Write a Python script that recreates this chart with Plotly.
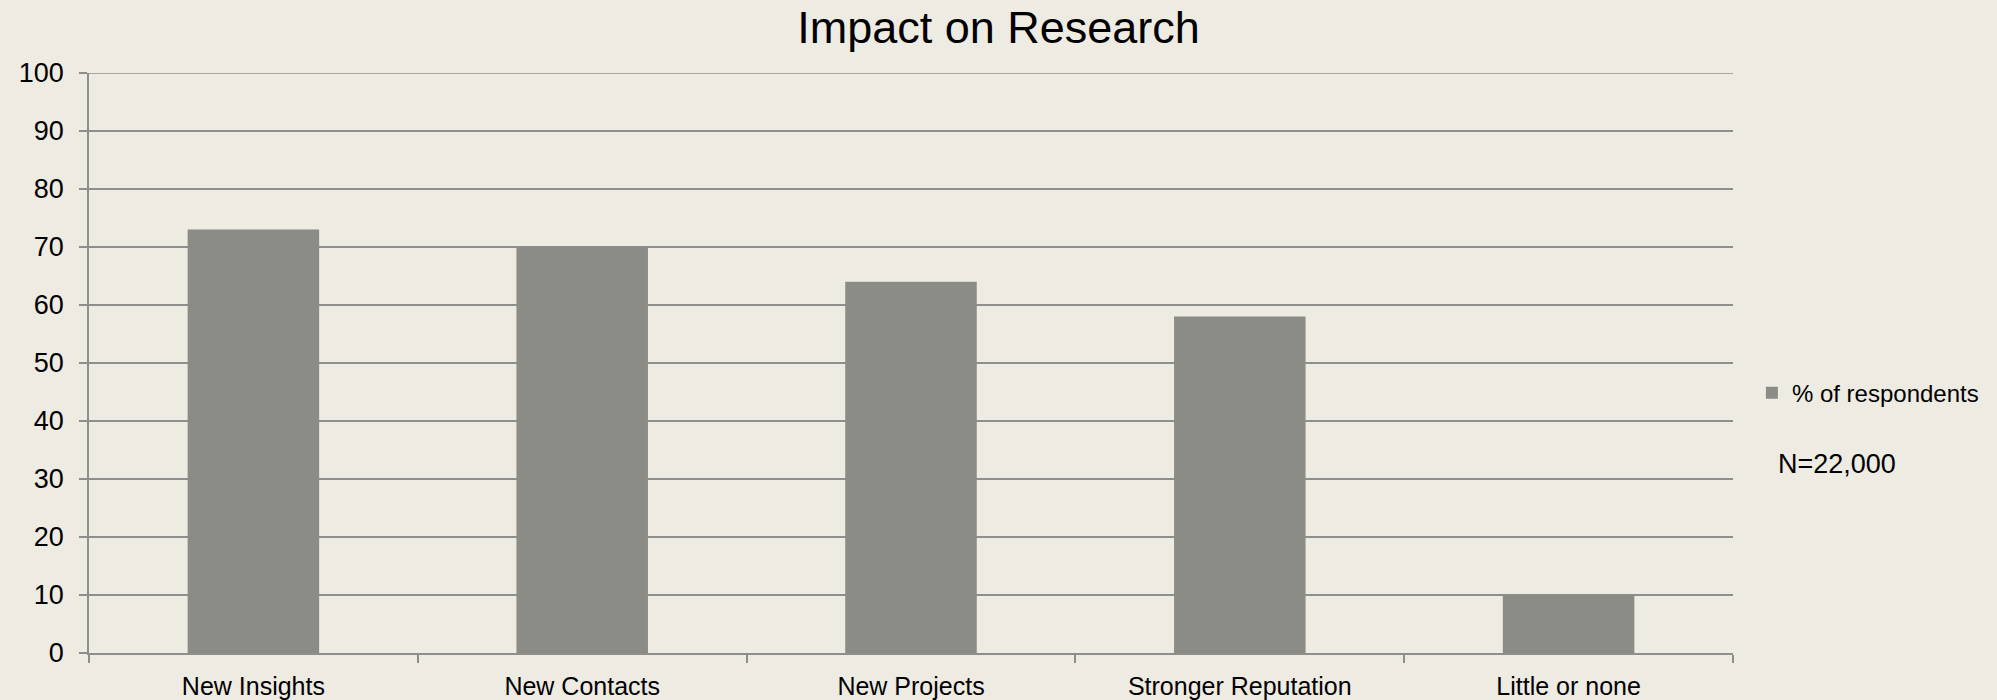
import plotly.graph_objects as go

categories = ["New Insights", "New Contacts", "New Projects", "Stronger Reputation", "Little or none"]
respondents_pct = [73, 70, 64, 58, 10]
series_name = "% of respondents"
sample_note = "N=22,000"
y_ticks = [0, 10, 20, 30, 40, 50, 60, 70, 80, 90, 100]

BG = "#eeebe3"
BAR = "#8b8c85"
GRID = "#8e8e8a"
FONT = "Liberation Sans"

fig = go.Figure()
fig.add_trace(go.Bar(
    x=categories,
    y=respondents_pct,
    name=series_name,
    marker=dict(color=BAR, line=dict(width=0)),
    showlegend=True,
))

fig.update_layout(
    width=1997,
    height=700,
    paper_bgcolor=BG,
    plot_bgcolor=BG,
    margin=dict(l=89, r=264, t=73, b=47, autoexpand=False),
    bargap=0.6,
    font=dict(family=FONT, size=24, color="#000000"),
    title=dict(
        text="Impact on Research",
        font=dict(family=FONT, size=45, color="#000000"),
        x=0.5, xref="container", xanchor="center",
        y=1 - 27 / 700, yref="container", yanchor="middle",
    ),
    showlegend=True,
    legend=dict(
        x=1.0115, xanchor="left",
        y=0.448, yanchor="middle",
        bgcolor="rgba(0,0,0,0)",
        font=dict(family=FONT, size=24),
        itemwidth=30,
    ),
    annotations=[dict(
        text=sample_note,
        xref="paper", yref="paper",
        x=(1776 - 89) / 1644, xanchor="left",
        y=(653 - 464) / 580, yanchor="middle",
        showarrow=False,
        font=dict(family=FONT, size=27, color="#000000"),
    )],
    shapes=[dict(
        type="line", xref="paper", yref="y",
        x0=0, x1=1, y0=100, y1=100,
        line=dict(color=GRID, width=1.5),
        layer="below",
    )],
)

fig.update_xaxes(
    automargin=False,
    showline=True, linecolor=GRID, linewidth=1.5,
    ticks="outside", tickson="boundaries", ticklen=8, tickcolor=GRID, tickwidth=1.5,
    tickfont=dict(family=FONT, size=25),
    ticklabelstandoff=10,
    showgrid=False,
)
fig.update_yaxes(
    automargin=False,
    range=[0, 100],
    tickvals=y_ticks,
    showline=True, linecolor=GRID, linewidth=1.5,
    ticks="outside", ticklen=8, tickcolor=GRID, tickwidth=1.5,
    tickfont=dict(family=FONT, size=27),
    ticklabelstandoff=10,
    showgrid=True, gridcolor=GRID, gridwidth=1.5,
    zeroline=False,
)

fig.write_html("out.html")
